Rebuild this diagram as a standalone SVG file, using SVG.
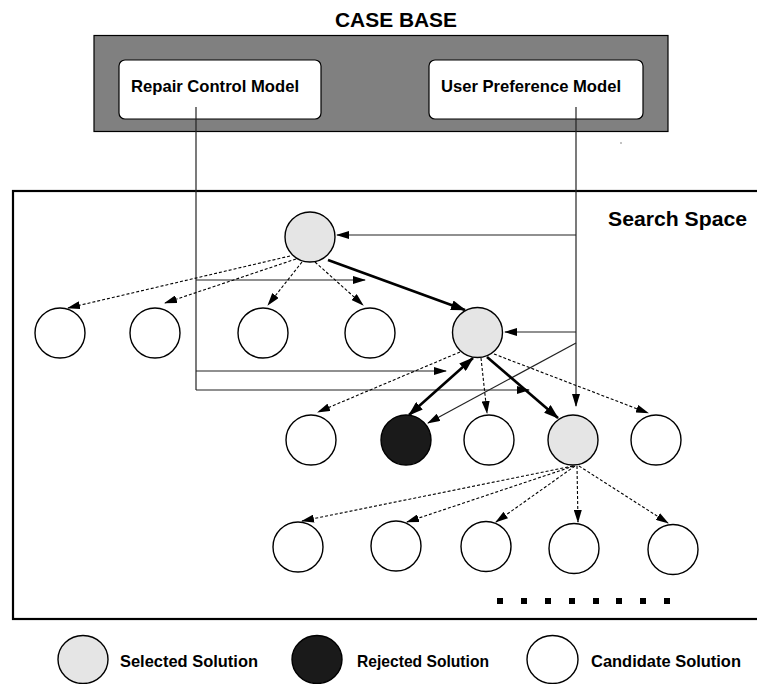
<svg xmlns="http://www.w3.org/2000/svg" width="757" height="684" viewBox="0 0 757 684">
<style>
text{font-family:"Liberation Sans",Arial,Helvetica,sans-serif;font-weight:bold;fill:#000}
.t16{font-size:16.5px}
.t21{font-size:21px}
.node{stroke:#000;stroke-width:1.4}
.sel{fill:#e5e5e5}
.rej{fill:#1a1a1a}
.cand{fill:#fff}
.thin{fill:none;stroke:#222;stroke-width:1.2}
.dash{fill:none;stroke:#000;stroke-width:1.1;stroke-dasharray:3,2}
.thick{fill:none;stroke:#000;stroke-width:2.6}
</style>
<defs>
<marker id="ah" markerUnits="userSpaceOnUse" markerWidth="13" markerHeight="8" refX="12" refY="4" orient="auto">
<path d="M0,0 L13,4 L0,8 z" fill="#000" stroke="none"/>
</marker>
<marker id="ahb" markerUnits="userSpaceOnUse" markerWidth="15" markerHeight="10" refX="14" refY="5" orient="auto-start-reverse">
<path d="M0,0 L15,5 L0,10 z" fill="#000" stroke="none"/>
</marker>
</defs>

<text class="t21" x="335" y="27" textLength="122" lengthAdjust="spacingAndGlyphs">CASE BASE</text>

<g id="case-base">
<rect x="94" y="35.5" width="574" height="96" fill="#808080" stroke="#000" stroke-width="1.2"/>
<rect x="620" y="142.5" width="2" height="1" fill="#888"/>
</g>
<g id="repair-control-model">
<rect x="119" y="60" width="202" height="59" rx="6" ry="6" fill="#fff" stroke="#000" stroke-width="1.2"/>
<text class="t16" x="131" y="92" textLength="168" lengthAdjust="spacingAndGlyphs">Repair Control Model</text>
</g>
<g id="user-preference-model">
<rect x="429" y="60" width="214" height="59" rx="6" ry="6" fill="#fff" stroke="#000" stroke-width="1.2"/>
<text class="t16" x="441" y="92" textLength="180" lengthAdjust="spacingAndGlyphs">User Preference Model</text>
</g>

<g id="search-space">
<rect x="13" y="191" width="780" height="428" fill="none" stroke="#000" stroke-width="2.2"/>
<text class="t21" x="608" y="226" textLength="139" lengthAdjust="spacingAndGlyphs">Search Space</text>
</g>

<g id="connectors">
<path class="thin" d="M196,107 V390"/>
<path class="thin" d="M196,280 H365" marker-end="url(#ah)"/>
<path class="thin" d="M196,371 H446" marker-end="url(#ah)"/>
<path class="thin" d="M196,390 H529" marker-end="url(#ah)"/>
<path class="thin" d="M576,107 V406" marker-end="url(#ah)"/>
<path class="thin" d="M576,235 H337" marker-end="url(#ah)"/>
<path class="thin" d="M576,332 H505" marker-end="url(#ah)"/>
<path class="thin" d="M576,343 L428,423" marker-end="url(#ah)"/>
<path class="dash" d="M290,256 L68,308" marker-end="url(#ah)"/>
<path class="dash" d="M296,259 L165,303" marker-end="url(#ah)"/>
<path class="dash" d="M302,262 L268,305" marker-end="url(#ah)"/>
<path class="dash" d="M315,262 L363,305" marker-end="url(#ah)"/>
<path class="thick" d="M328,260 L465,310" marker-end="url(#ahb)"/>
<path class="dash" d="M460,352 L318,412" marker-end="url(#ah)"/>
<path class="thick" d="M409,415 L473,358" marker-start="url(#ahb)" marker-end="url(#ahb)"/>
<path class="dash" d="M481,358 L487,413" marker-end="url(#ah)"/>
<path class="thick" d="M487,357 L558,418" marker-end="url(#ahb)"/>
<path class="dash" d="M494,354 L648,413" marker-end="url(#ah)"/>
<path class="dash" d="M573,466 L302,521" marker-end="url(#ah)"/>
<path class="dash" d="M574,466 L407,522" marker-end="url(#ah)"/>
<path class="dash" d="M575,466 L496,522" marker-end="url(#ah)"/>
<path class="dash" d="M577,466 L578,522" marker-end="url(#ah)"/>
<path class="dash" d="M579,466 L668,523" marker-end="url(#ah)"/>
</g>

<g id="n-root"><circle class="node sel" cx="310" cy="237" r="25"/></g>
<g id="n-2a"><circle class="node cand" cx="60" cy="333" r="25"/></g>
<g id="n-2b"><circle class="node cand" cx="155" cy="333" r="25"/></g>
<g id="n-2c"><circle class="node cand" cx="263" cy="333" r="25"/></g>
<g id="n-2d"><circle class="node cand" cx="370" cy="333" r="25"/></g>
<g id="n-2e"><circle class="node sel" cx="477.5" cy="332.5" r="25"/></g>
<g id="n-3a"><circle class="node cand" cx="311" cy="440" r="25"/></g>
<g id="n-3b"><circle class="node rej" cx="406" cy="440" r="25"/></g>
<g id="n-3c"><circle class="node cand" cx="489" cy="440" r="25"/></g>
<g id="n-3d"><circle class="node sel" cx="573" cy="440" r="25"/></g>
<g id="n-3e"><circle class="node cand" cx="656" cy="440" r="25"/></g>
<g id="n-4a"><circle class="node cand" cx="298" cy="547" r="25"/></g>
<g id="n-4b"><circle class="node cand" cx="396" cy="546" r="25"/></g>
<g id="n-4c"><circle class="node cand" cx="486" cy="546.5" r="25"/></g>
<g id="n-4d"><circle class="node cand" cx="574" cy="548.5" r="25"/></g>
<g id="n-4e"><circle class="node cand" cx="673" cy="549.5" r="25"/></g>

<g id="ellipsis" fill="#000">
<rect x="497" y="598" width="6" height="6"/>
<rect x="521" y="598" width="6" height="6"/>
<rect x="545" y="598" width="6" height="6"/>
<rect x="569" y="598" width="6" height="6"/>
<rect x="593" y="598" width="6" height="6"/>
<rect x="616" y="598" width="6" height="6"/>
<rect x="640" y="598" width="6" height="6"/>
<rect x="664" y="598" width="6" height="6"/>
</g>

<g id="legend-selected">
<ellipse class="node sel" cx="83" cy="659.5" rx="25" ry="24" stroke-width="1.2"/>
<text class="t16" x="120" y="667" textLength="138" lengthAdjust="spacingAndGlyphs">Selected Solution</text>
</g>
<g id="legend-rejected">
<ellipse class="node rej" cx="317" cy="659.5" rx="25" ry="24" stroke-width="1.2"/>
<text class="t16" x="357" y="667" textLength="132" lengthAdjust="spacingAndGlyphs">Rejected Solution</text>
</g>
<g id="legend-candidate">
<ellipse class="node cand" cx="552.5" cy="659.5" rx="25.5" ry="24" stroke-width="1.2"/>
<text class="t16" x="591" y="667" textLength="150" lengthAdjust="spacingAndGlyphs">Candidate Solution</text>
</g>
</svg>
